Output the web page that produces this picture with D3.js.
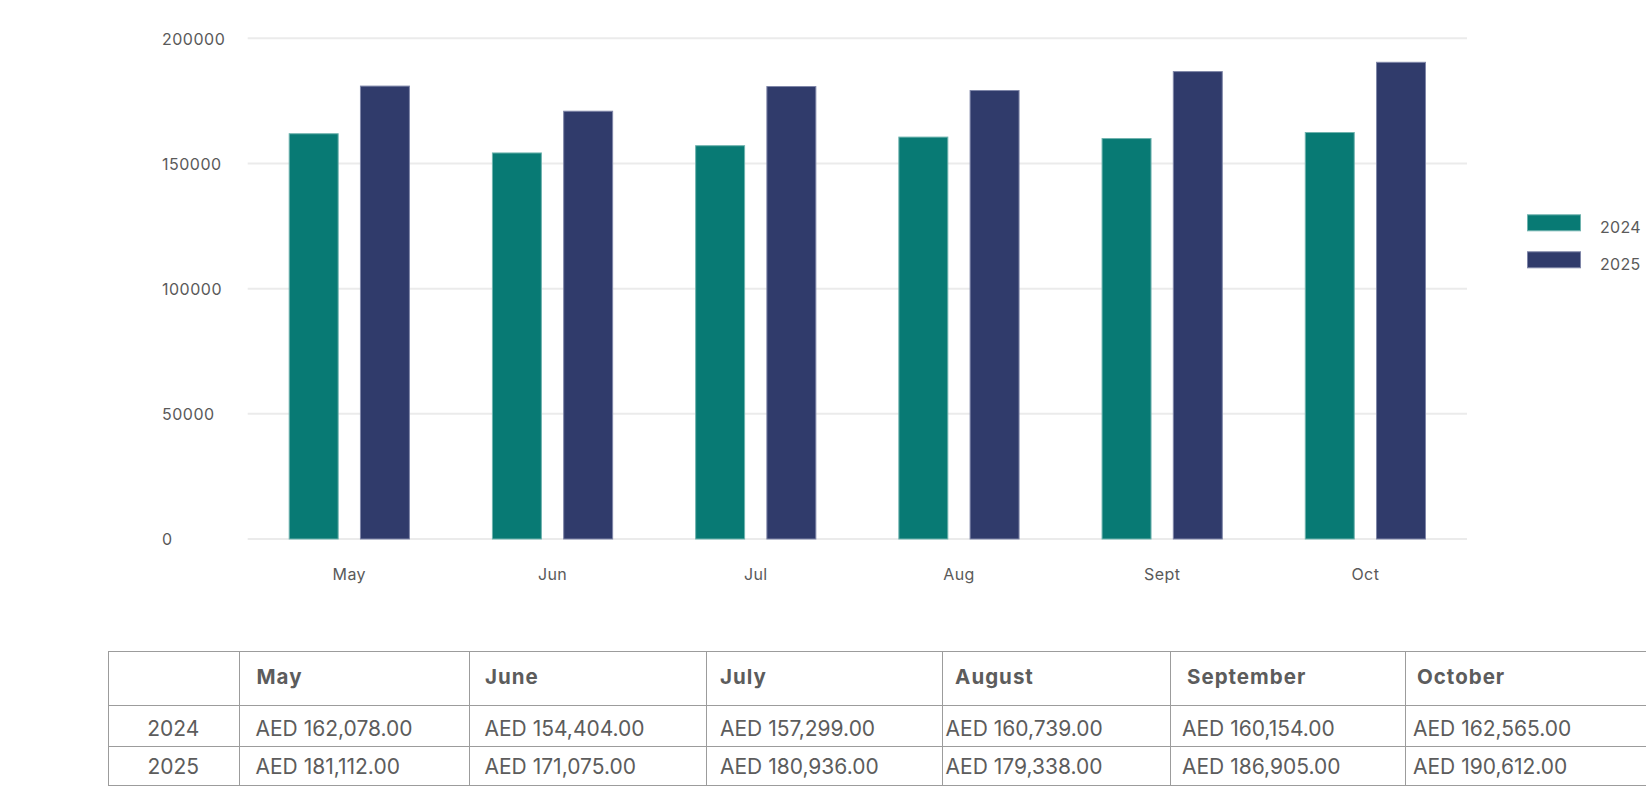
<!DOCTYPE html>
<html>
<head>
<meta charset="utf-8">
<script src="https://cdn.jsdelivr.net/npm/d3@7"></script>
<style>
  html, body { margin: 0; padding: 0; background: #ffffff; }
  svg { display: block; font-family: Inter, "Open Sans", sans-serif; }
</style>
</head>
<body>
<svg id="chart" width="1646" height="787"></svg>
<script>
// ---- data ----
const months = ["May", "Jun", "Jul", "Aug", "Sept", "Oct"];
const monthNames = ["May", "June", "July", "August", "September", "October"];
const years = ["2024", "2025"];
const values2024 = [162078, 154404, 157299, 160739, 160154, 162565];
const values2025 = [181112, 171075, 180936, 179338, 186905, 190612];
const yTicks = [0, 50000, 100000, 150000, 200000];

const colors = { "2024": "#087a74", "2025": "#303b6b" };
const strokes = { "2024": "#6fb3ae", "2025": "#7f86a8" };

const rows = months.map((m, i) => ({ month: m, "2024": values2024[i], "2025": values2025[i] }));

const svg = d3.select("#chart");

// ---- scales ----
const x0 = d3.scaleBand().domain(months).range([247.7, 1467]).paddingInner(0).paddingOuter(0);
const x1 = d3.scaleBand().domain(years).range([41, x0.bandwidth() - 41]).paddingInner(0.2987).paddingOuter(0);
const y = d3.scaleLinear().domain([0, 200000]).range([539, 38.3]);

// ---- gridlines ----
svg.append("g")
  .selectAll("line")
  .data(yTicks)
  .join("line")
  .attr("x1", 247.7).attr("x2", 1467)
  .attr("y1", d => y(d)).attr("y2", d => y(d))
  .attr("stroke", "#ebebeb").attr("stroke-width", 2);

// ---- y axis labels ----
const yAxis = d3.axisLeft(y).tickValues(yTicks).tickSize(0).tickFormat(d3.format("d"));
const gy = svg.append("g").attr("transform", "translate(162,0)").call(yAxis);
gy.select(".domain").remove();
gy.selectAll("text")
  .attr("x", 0).attr("dy", "0.36em")
  .attr("text-anchor", "start")
  .attr("fill", "#5a5a5a")
  .style("font-size", "16px")
  .style("letter-spacing", "0.5px")
  .style("font-family", "Inter, 'Open Sans', sans-serif");

// ---- x axis labels ----
const xAxis = d3.axisBottom(x0).tickSize(0);
const gx = svg.append("g").attr("transform", "translate(0,539)").call(xAxis);
gx.select(".domain").remove();
gx.selectAll("text")
  .attr("y", 41).attr("dy", 0)
  .attr("fill", "#5a5a5a")
  .style("font-size", "16px")
  .style("letter-spacing", "0.4px")
  .style("font-family", "Inter, 'Open Sans', sans-serif");

// ---- bars ----
svg.append("g")
  .selectAll("g")
  .data(rows)
  .join("g")
  .attr("transform", d => `translate(${x0(d.month)},0)`)
  .selectAll("rect")
  .data(d => years.map(k => ({ key: k, value: d[k] })))
  .join("rect")
  .attr("x", d => x1(d.key) + 0.5)
  .attr("width", x1.bandwidth() - 1)
  .attr("y", d => y(d.value) + 0.5)
  .attr("height", d => y(0) - y(d.value) - 0.5)
  .attr("fill", d => colors[d.key])
  .attr("stroke", d => strokes[d.key])
  .attr("stroke-width", 1);

// ---- legend ----
const legend = svg.append("g");
const legY = d3.scalePoint().domain(years).range([214.3, 251.3]);
years.forEach(k => {
  legend.append("rect")
    .attr("x", 1527.5).attr("y", legY(k) + 0.5)
    .attr("width", 53).attr("height", 16)
    .attr("fill", colors[k]).attr("stroke", strokes[k]).attr("stroke-width", 1);
  legend.append("text")
    .attr("x", 1600).attr("y", legY(k) + 18.4)
    .attr("fill", "#5a5a5a")
    .style("font-size", "16px")
    .style("letter-spacing", "0.3px")
    .text(k);
});

// ---- table ----
const colEdges = [108, 238.5, 468.5, 706, 941.6, 1170, 1405, 1660];
const rowEdges = [651, 705.3, 746, 785];
const headerPad = [0, 18, 16.5, 14, 13.5, 17, 12];
const dataPad = [0, 17, 16, 14, 4, 12, 8];
const tableColor = "#5c5c5c";
const lineColor = "#9c9c9c";

const table = svg.append("g");
// horizontal lines
table.selectAll("line.h")
  .data(rowEdges)
  .join("line")
  .attr("class", "h")
  .attr("x1", colEdges[0]).attr("x2", colEdges[colEdges.length - 1])
  .attr("y1", d => Math.round(d) + 0.5).attr("y2", d => Math.round(d) + 0.5)
  .attr("stroke", lineColor).attr("stroke-width", 1);
// vertical lines
table.selectAll("line.v")
  .data(colEdges.slice(0, -1))
  .join("line")
  .attr("class", "v")
  .attr("x1", d => Math.round(d) + 0.5).attr("x2", d => Math.round(d) + 0.5)
  .attr("y1", rowEdges[0]).attr("y2", rowEdges[rowEdges.length - 1])
  .attr("stroke", lineColor).attr("stroke-width", 1);

const fmt = d3.format(",.2f");
// header
monthNames.forEach((m, i) => {
  table.append("text")
    .attr("x", colEdges[i + 1] + headerPad[i + 1])
    .attr("y", 683.5)
    .attr("fill", tableColor)
    .style("font-size", "20.5px")
    .style("font-weight", "700")
    .style("letter-spacing", "1px")
    .text(m);
});
// data rows
const rowBaselines = [736, 774];
[values2024, values2025].forEach((vals, r) => {
  table.append("text")
    .attr("x", (colEdges[0] + colEdges[1]) / 2)
    .attr("y", rowBaselines[r])
    .attr("text-anchor", "middle")
    .attr("fill", tableColor)
    .style("font-size", "21px")
    .text(years[r]);
  vals.forEach((v, i) => {
    table.append("text")
      .attr("x", colEdges[i + 1] + dataPad[i + 1])
      .attr("y", rowBaselines[r])
      .attr("fill", tableColor)
      .style("font-size", "21px")
      .text("AED " + fmt(v));
  });
});
</script>
</body>
</html>
